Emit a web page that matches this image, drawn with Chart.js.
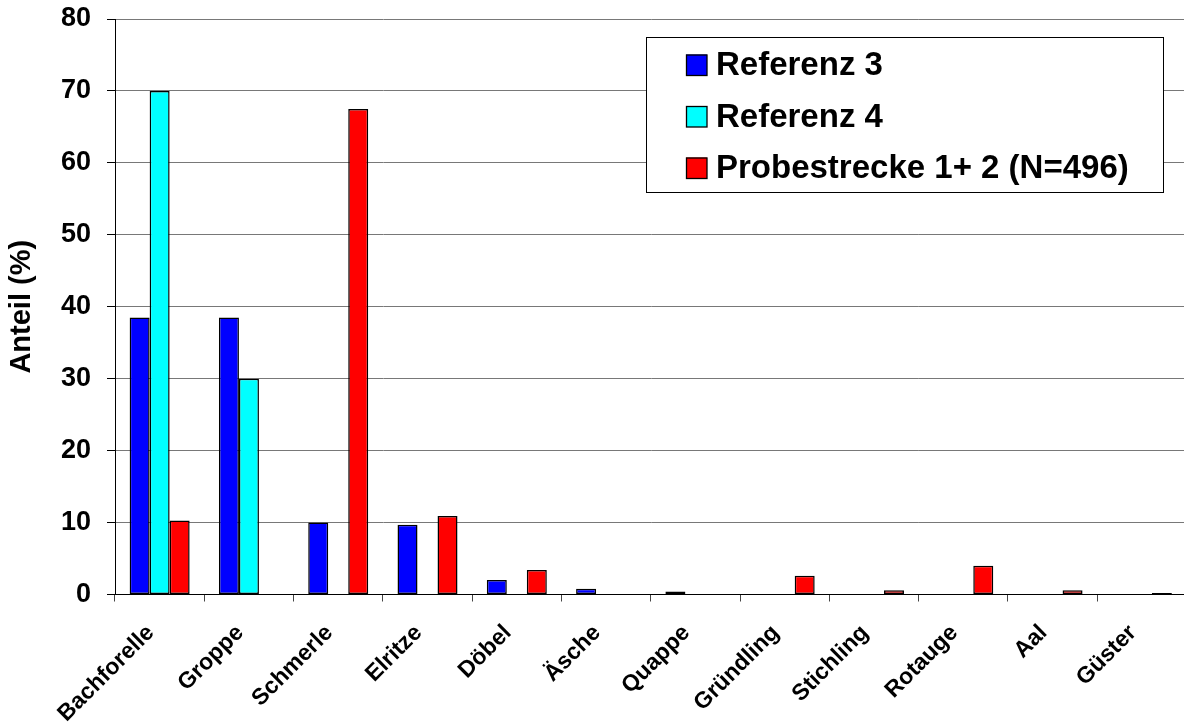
<!DOCTYPE html>
<html>
<head>
<meta charset="utf-8">
<script src="https://cdn.jsdelivr.net/npm/chart.js@4/dist/chart.umd.min.js"></script>
<style>
  html, body { margin: 0; padding: 0; background: #fff; overflow: hidden; }
  #wrap { position: relative; width: 1188px; height: 722px; }
</style>
</head>
<body>
<div id="wrap"><canvas id="c"></canvas></div>
<script>
// Fish species (categories)
const species = ['Bachforelle', 'Groppe', 'Schmerle', 'Elritze', 'Döbel', 'Äsche',
                 'Quappe', 'Gründling', 'Stichling', 'Rotauge', 'Aal', 'Güster'];

// Share of catch in percent per series (null = species not recorded)
const referenz3 = [38.5, 38.5, 10.0, 9.7, 2.0, 0.8, 0.4, null, null, null, null, null];
const referenz4 = [70.0, 30.0, null, null, null, null, null, null, null, null, null, null];
const probestrecke = [10.3, null, 67.5, 10.9, 3.4, null, null, 2.6, 0.6, 4.0, 0.6, 0.2];

const seriesNames = ['Referenz 3', 'Referenz 4', 'Probestrecke 1+ 2 (N=496)'];
const yTicks = [0, 10, 20, 30, 40, 50, 60, 70, 80];

const FONT = '"Liberation Sans", Arial, sans-serif';

// Legend box drawn inside the plot area, upper right
const boxLegend = {
  id: 'boxLegend',
  afterDraw(chart) {
    const ctx = chart.ctx;
    const x0 = 646, y0 = 37.5, x1 = 1163, y1 = 192.5;
    ctx.save();
    ctx.fillStyle = '#fff';
    ctx.fillRect(x0, y0, x1 - x0, y1 - y0);
    ctx.strokeStyle = '#000';
    ctx.lineWidth = 1;
    ctx.strokeRect(x0 + 0.5, y0, x1 - x0, y1 - y0);
    const rows = [65, 116.5, 168];
    ctx.font = 'bold 33px ' + FONT;
    ctx.textBaseline = 'middle';
    ctx.textAlign = 'left';
    chart.data.datasets.forEach((ds, i) => {
      const cy = rows[i];
      ctx.fillStyle = ds.backgroundColor;
      ctx.fillRect(686, cy - 10.5, 21, 21);
      ctx.strokeStyle = '#000';
      ctx.lineWidth = 1.3;
      ctx.strokeRect(686.5, cy - 10, 20.5, 20.5);
      ctx.fillStyle = '#000';
      ctx.fillText(ds.label, 716, cy + 1);
    });
    ctx.restore();
  }
};

new Chart(document.getElementById('c'), {
  type: 'bar',
  data: {
    labels: species,
    datasets: [
      { label: seriesNames[0], data: referenz3, backgroundColor: '#0000ff' },
      { label: seriesNames[1], data: referenz4, backgroundColor: '#00ffff' },
      { label: seriesNames[2], data: probestrecke, backgroundColor: '#ff0000' }
    ].map(d => Object.assign(d, {
      borderColor: '#000', borderWidth: 1.5, borderSkipped: false,
      categoryPercentage: 0.672, barPercentage: 1.0, grouped: true
    }))
  },
  options: {
    responsive: true,
    maintainAspectRatio: false,
    animation: false,
    layout: { padding: { top: 19, right: 1.5, left: 0, bottom: 0 } },
    plugins: { legend: { display: false }, tooltip: { enabled: false } },
    scales: {
      x: {
        offset: true,
        grid: { offset: true, drawOnChartArea: false, drawTicks: true, tickLength: 7, tickColor: '#444', lineWidth: 1 },
        border: { display: true, color: '#000', width: 1 },
        ticks: {
          autoSkip: false, minRotation: 45, maxRotation: 45, padding: 18, labelOffset: -9,
          color: '#000', font: { family: FONT, size: 23, weight: 'bold' }
        },
        afterFit(scale) { scale.height = 127.5; }
      },
      y: {
        min: 0, max: 80,
        afterBuildTicks(scale) { scale.ticks = yTicks.map(v => ({ value: v })); },
        grid: { color: '#787878', lineWidth: 1, tickLength: 8, tickColor: '#000', drawTicks: true },
        border: { display: true, color: '#000', width: 1 },
        ticks: { padding: 16, color: '#000', font: { family: FONT, size: 27, weight: 'bold' } },
        title: {
          display: true, text: 'Anteil (%)', color: '#000',
          font: { family: FONT, size: 29, weight: 'bold', lineHeight: 1.2 },
          padding: { top: 5, bottom: 0 }
        },
        afterFit(scale) {
          scale.width = 115;
          scale.paddingTop = 0;
          scale.paddingBottom = 0;
        }
      }
    }
  },
  plugins: [boxLegend]
});
</script>
</body>
</html>
